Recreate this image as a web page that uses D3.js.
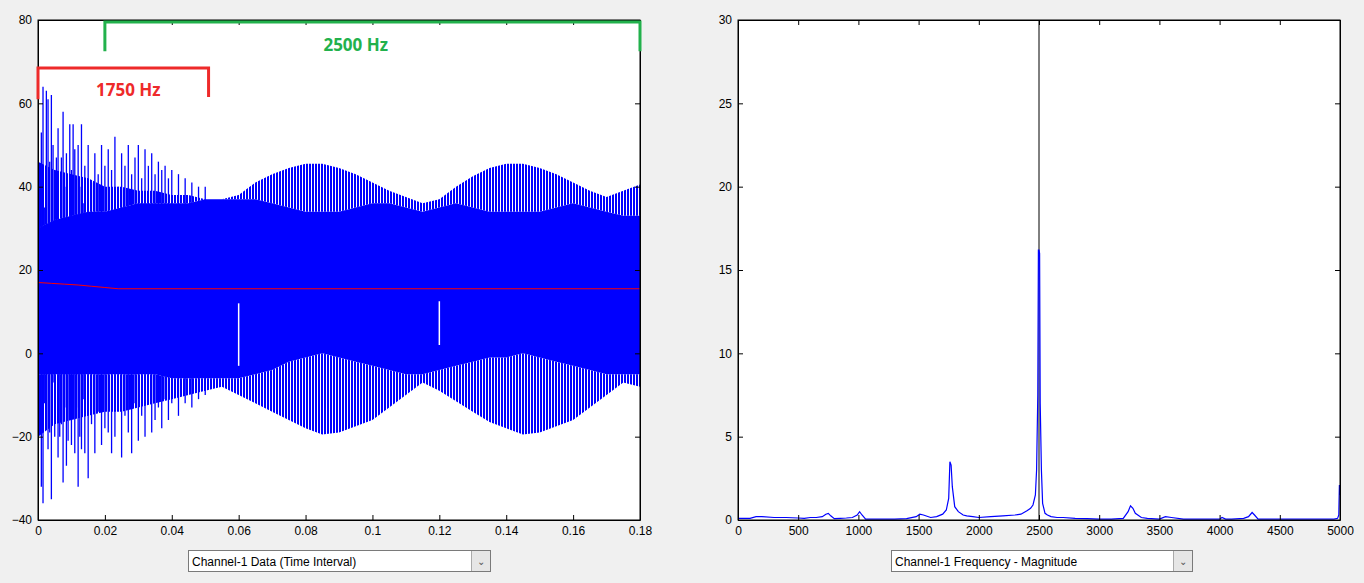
<!DOCTYPE html>
<html><head><meta charset="utf-8">
<script src="https://cdn.jsdelivr.net/npm/d3@7"></script>
<style>
body{margin:0;background:#f0f0f0;font-family:"Liberation Sans",Arial,sans-serif;}
.dd{position:absolute;height:22px;border:1px solid #7a7a7a;background:#fff;font-size:12px;line-height:22px;padding-left:3px;box-sizing:border-box}
.dd span{position:absolute;right:0;top:0;width:18px;height:20px;background:#e6e6e6;border-left:1px solid #aaa;text-align:center;color:#555;font-size:10px}
</style></head><body>
<svg id="c" width="1364" height="583" style="position:absolute;left:0;top:0"></svg>
<div class="dd" style="left:188px;top:550px;width:303px">Channel-1 Data (Time Interval)<span>&#8964;</span></div>
<div class="dd" style="left:891px;top:550px;width:302px">Channel-1 Frequency - Magnitude<span>&#8964;</span></div>
<script>
const timeT   = [0,0.005,0.01,0.015,0.02,0.025,0.03,0.035,0.04,0.045,0.05,0.055,0.06,0.065,0.07,0.075,0.08,0.085,0.09,0.095,0.1,0.105,0.11,0.115,0.12,0.125,0.13,0.135,0.14,0.145,0.15,0.155,0.16,0.165,0.17,0.175,0.18];
const outerHi = [46,44,43,42,40,40,39,39,38,38,37,37,38,41,43,44.5,45.5,45.5,44.5,43,41,39,37.5,36,37,40,42.5,44.5,45.5,45.5,44.5,43,41,39,37.5,39,40.5];
const innerHi = [30,32,33,34,34,35,36,36,36,36,37,37,37,37,36,35,34,34,34,35,36,36,35,34,35,36,35,34,34,34,34,35,36,35,34,33,33];
const outerLo = [-20,-17,-16,-15,-14,-14,-13,-12,-11,-10,-9,-8,-10,-12,-14,-16,-18,-19.5,-19,-17.5,-16,-13,-10,-7,-9,-11.5,-14,-16.5,-18,-19.5,-19,-17.5,-16,-13,-10,-7,-8];
const innerLo = [-5,-5,-5,-5,-5,-5,-5,-5,-6,-6,-6,-6,-6,-5,-4,-2,-1,0,-1,-2,-3,-4,-5,-5,-4,-3,-2,-1,-1,0,-1,-2,-3,-4,-5,-5,-5];
// early transient spikes: [time, top, bottom]
const spikes = [[0.0005,38,-5],[0.001,53,-32],[0.0015,64,-36],[0.002,35,-12],[0.0025,63,-6],[0.003,61,-23],[0.0035,46,-19],[0.004,62,-35],[0.0045,50,-7],[0.005,36,-20],[0.0055,47,-3],[0.006,54,-25],[0.0065,29,-20],[0.007,47,-17],[0.0075,58,-31],[0.008,40,-13],[0.0085,48,-27],[0.009,32,-21],[0.0095,55,-15],[0.01,44,-22],[0.0105,55,-10],[0.011,49,-24],[0.0115,42,-13],[0.012,50,-32],[0.0125,40,-20],[0.013,55,-23],[0.0135,36,-11],[0.014,45,-24],[0.015,50,-30],[0.016,41,-17],[0.017,48,-24],[0.018,43,-14],[0.019,50,-22],[0.02,45,-18],[0.021,49,-19],[0.022,44,-24],[0.023,52,-20],[0.024,40,-13],[0.025,48,-25],[0.026,45,-15],[0.027,50,-19],[0.028,43,-24],[0.029,47,-12],[0.03,50,-21],[0.031,42,-15],[0.032,49,-20],[0.033,45,-12],[0.034,48,-19],[0.035,43,-16],[0.036,46,-13],[0.037,44,-18],[0.038,45,-11],[0.039,42,-16],[0.04,44,-12],[0.042,43,-15],[0.044,42,-12],[0.046,41,-13],[0.048,40,-11],[0.05,40,-10]];
const whiteCuts = [[0.06,12,-3],[0.12,12.5,2]];
const meanT = [0,0.004,0.008,0.012,0.016,0.02,0.024,0.18];
const meanV = [17,16.8,16.6,16.4,16.1,15.8,15.5,15.5];
const timeTicks = [0,0.02,0.04,0.06,0.08,0.1,0.12,0.14,0.16,0.18];
const ampTicks = [-40,-20,0,20,40,60,80];

const freq = [0,50,100,150,200,300,400,500,550,600,650,700,730,750,770,800,850,900,950,990,1010,1030,1060,1100,1200,1300,1400,1480,1510,1540,1600,1650,1700,1730,1750,1760,1770,1780,1800,1830,1870,1900,1950,2000,2100,2200,2300,2350,2400,2430,2450,2470,2480,2490,2495,2500,2505,2510,2520,2530,2540,2550,2570,2600,2650,2700,2800,2900,3000,3100,3200,3240,3260,3280,3300,3350,3400,3500,3550,3600,3700,3800,3900,4000,4020,4050,4100,4200,4240,4270,4290,4320,4400,4500,4600,4700,4800,4900,4950,4980,4990,4995,5000];
const mag  = [0.1,0.1,0.1,0.2,0.2,0.15,0.15,0.12,0.1,0.15,0.15,0.2,0.35,0.4,0.25,0.08,0.1,0.12,0.15,0.3,0.5,0.3,0.05,0.05,0.05,0.05,0.08,0.2,0.35,0.3,0.15,0.2,0.35,0.6,1.3,3.5,3.3,2.0,0.8,0.5,0.3,0.25,0.2,0.15,0.2,0.25,0.3,0.35,0.55,0.7,0.9,1.5,3.0,7.5,16.2,30,16.0,7.0,3.0,1.0,0.7,0.4,0.3,0.2,0.15,0.15,0.1,0.08,0.05,0.05,0.1,0.5,0.85,0.7,0.4,0.15,0.1,0.05,0.2,0.15,0.05,0.05,0.05,0.05,0.15,0.05,0.05,0.1,0.2,0.45,0.3,0.05,0.05,0.05,0.05,0.05,0.05,0.05,0.05,0.1,0.3,2.1,1.5];
const freqTicks = [0,500,1000,1500,2000,2500,3000,3500,4000,4500,5000];
const magTicks = [0,5,10,15,20,25,30];

const svg = d3.select("#c");
const defs = svg.append("defs");
const pat = defs.append("pattern").attr("id","str").attr("patternUnits","userSpaceOnUse").attr("width",3).attr("height",10);
pat.append("rect").attr("width",3).attr("height",10).attr("fill","#fff");
pat.append("rect").attr("width",2).attr("height",10).attr("fill","#0000ff");

function frame(x0,x1,y0,y1,xs,ys,xt,yt,fmt){
  const g = svg.append("g");
  g.append("rect").attr("x",x0).attr("y",y0).attr("width",x1-x0).attr("height",y1-y0).attr("fill","#fff");
  return g;
}
function axes(g,x0,x1,y0,y1,xs,ys,xt,yt){
  const ax = (gen,tr)=>{const a=g.append("g").attr("transform",tr).call(gen);
    a.selectAll("text").attr("font-size",12).attr("fill","#000").attr("font-family","Liberation Sans, Arial");
    a.selectAll("line").attr("stroke","#000"); a.select(".domain").attr("stroke","#000"); return a;};
  ax(d3.axisBottom(xs).tickValues(xt).tickSize(-5).tickPadding(6).tickSizeOuter(0).tickFormat(d=>d),`translate(0,${y1})`);
  ax(d3.axisTop(xs).tickValues(xt).tickSize(-5).tickSizeOuter(0).tickFormat(""),`translate(0,${y0})`);
  ax(d3.axisLeft(ys).tickValues(yt).tickSize(-5).tickPadding(6).tickSizeOuter(0),`translate(${x0},0)`);
  ax(d3.axisRight(ys).tickValues(yt).tickSize(-5).tickSizeOuter(0).tickFormat(""),`translate(${x1},0)`);
}
// Left
const L={x0:38,x1:640,y0:20,y1:520};
const xs=d3.scaleLinear().domain([0,0.18]).range([L.x0,L.x1]);
const ys=d3.scaleLinear().domain([-40,80]).range([L.y1,L.y0]);
const gl=frame(L.x0,L.x1,L.y0,L.y1);
const idx=d3.range(timeT.length);
gl.append("path").attr("fill","url(#str)").attr("d",d3.area().x(i=>xs(timeT[i])).y0(i=>ys(innerHi[i])).y1(i=>ys(outerHi[i]))(idx));
gl.append("path").attr("fill","url(#str)").attr("d",d3.area().x(i=>xs(timeT[i])).y0(i=>ys(outerLo[i])).y1(i=>ys(innerLo[i]))(idx));
gl.append("path").attr("fill","#0000ff").attr("d",d3.area().x(i=>xs(timeT[i])).y0(i=>ys(innerLo[i])).y1(i=>ys(innerHi[i]))(idx));
gl.selectAll(".sp").data(spikes).join("line").attr("x1",d=>xs(d[0])).attr("x2",d=>xs(d[0])).attr("y1",d=>ys(d[1])).attr("y2",d=>ys(d[2])).attr("stroke","#0000ff").attr("stroke-width",1.3);
gl.selectAll(".wc").data(whiteCuts).join("line").attr("x1",d=>xs(d[0])).attr("x2",d=>xs(d[0])).attr("y1",d=>ys(d[1])).attr("y2",d=>ys(d[2])).attr("stroke","#fff").attr("stroke-width",1.5);
gl.append("path").attr("fill","none").attr("stroke","#ff0000").attr("stroke-width",1).attr("d",d3.line().x((d,i)=>xs(meanT[i])).y(d=>ys(d))(meanV));
gl.append("rect").attr("x",L.x0).attr("y",L.y0).attr("width",L.x1-L.x0).attr("height",L.y1-L.y0).attr("fill","none").attr("stroke","#000");
axes(gl,L.x0,L.x1,L.y0,L.y1,xs,ys,timeTicks,ampTicks);
// annotations
gl.append("path").attr("fill","none").attr("stroke","#ee2a2a").attr("stroke-width",3).attr("d",`M${xs(0)},${ys(61)}V${ys(68.5)}H${xs(0.051)}V${ys(61.5)}`);
gl.append("text").attr("x",xs(0.027)).attr("y",96).attr("text-anchor","middle").attr("fill","#ee2a2a").attr("font-weight","bold").attr("font-size",17).attr("font-family","Open Sans, Liberation Sans").text("1750 Hz");
gl.append("path").attr("fill","none").attr("stroke","#22b14c").attr("stroke-width",3).attr("d",`M${xs(0.02)},${ys(72.5)}V${ys(79.5)}H${xs(0.18)}V${ys(72.5)}`);
gl.append("text").attr("x",xs(0.095)).attr("y",51).attr("text-anchor","middle").attr("fill","#22b14c").attr("font-weight","bold").attr("font-size",17).attr("font-family","Open Sans, Liberation Sans").text("2500 Hz");
// Right
const R={x0:738,x1:1340,y0:20,y1:520};
const xf=d3.scaleLinear().domain([0,5000]).range([R.x0,R.x1]);
const yf=d3.scaleLinear().domain([0,30]).range([R.y1,R.y0]);
const gr=frame(R.x0,R.x1,R.y0,R.y1);
gr.append("line").attr("x1",xf(2500)).attr("x2",xf(2500)).attr("y1",R.y0).attr("y2",R.y1).attr("stroke","#000");
gr.append("path").attr("fill","none").attr("stroke","#0000ff").attr("stroke-width",1.2).attr("d",d3.line().x((d,i)=>xf(freq[i])).y(d=>yf(d))(mag.map((m,i)=>freq[i]==2500?16.2:m)));
gr.append("rect").attr("x",R.x0).attr("y",R.y0).attr("width",R.x1-R.x0).attr("height",R.y1-R.y0).attr("fill","none").attr("stroke","#000");
axes(gr,R.x0,R.x1,R.y0,R.y1,xf,yf,freqTicks,magTicks);
</script></body></html>
